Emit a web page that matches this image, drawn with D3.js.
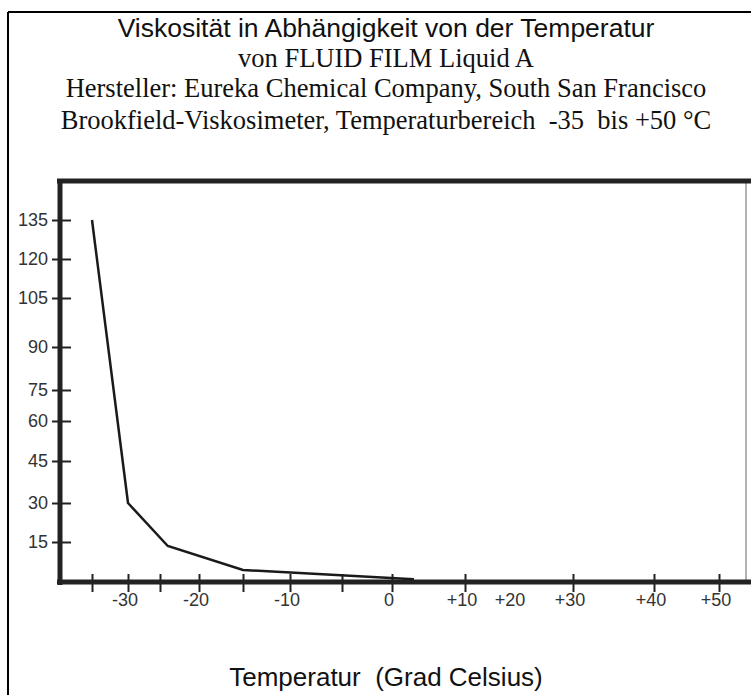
<!DOCTYPE html>
<html>
<head>
<meta charset="utf-8">
<script src="https://cdn.jsdelivr.net/npm/d3@7"></script>
<style>
body{margin:0;background:#fff}
svg{display:block}
</style>
</head>
<body>
<svg></svg>
<script>

// data
var temps = [-35, -30, -24, -15, 3]
var visc = [135, 30, 13.5, 4.5, 1]

var titleLines = [
    "Viskosität in Abhängigkeit von der Temperatur",
    "von FLUID FILM Liquid A",
    "Hersteller: Eureka Chemical Company, South San Francisco",
    "Brookfield-Viskosimeter, Temperaturbereich  -35  bis +50 °C"
]
var xTickValues = [-35, -30, -25, -20, -15, -10, -5, 0, 10, 30, 40, 50]
var xLabelValues = [-30, -20, -10, 0, 10, 20, 30, 40, 50]
var yTickValues = [15, 30, 45, 60, 75, 90, 105, 120, 135]
var xTitle = "Temperatur  (Grad Celsius)"

var screen = {width:751, height:695}

var svg = d3.select("svg")
    .attr("width", screen.width)
    .attr("height", screen.height)

// the original is hand drawn, so the axes are not evenly spaced
var xScale = d3.scaleLinear()
    .domain([-35, -30, -25, -20, -15, -10, -5, 0, 10, 20, 30, 40, 50])
    .range([92, 128, 160, 199, 243, 290, 342, 392, 465, 513, 573, 654, 719])

var yScale = d3.scaleLinear()
    .domain([0, 15, 30, 45, 60, 75, 90, 105, 120, 135])
    .range([582, 542, 503, 461, 421, 390, 347, 298, 259, 220])

// outer border (left + top)
svg.append("line")
    .attr("x1", 8).attr("y1", 12).attr("x2", 8).attr("y2", screen.height)
    .attr("stroke", "#000").attr("stroke-width", 2)
svg.append("line")
    .attr("x1", 8).attr("y1", 12).attr("x2", screen.width).attr("y2", 12)
    .attr("stroke", "#000").attr("stroke-width", 2)

// titles
var fonts = ["Liberation Sans, Arial, sans-serif", "Liberation Serif, Times New Roman, serif",
             "Liberation Serif, Times New Roman, serif", "Liberation Serif, Times New Roman, serif"]
var baselines = [37, 67, 97, 129]
svg.selectAll("text.title")
    .data(titleLines)
    .enter()
    .append("text")
    .attr("class", "title")
    .attr("x", 386)
    .attr("y", function(d, i){return baselines[i]})
    .attr("text-anchor", "middle")
    .style("font-family", function(d, i){return fonts[i]})
    .style("font-size", "26.5px")
    .style("white-space", "pre")
    .attr("fill", "#111")
    .text(function(d){return d})

// plot frame: thin right edge
svg.append("line")
    .attr("x1", 746).attr("y1", 181).attr("x2", 746).attr("y2", 582)
    .attr("stroke", "#999").attr("stroke-width", 1.5)

// top thick line
svg.append("line")
    .attr("x1", 57).attr("y1", 181).attr("x2", screen.width).attr("y2", 181)
    .attr("stroke", "#222").attr("stroke-width", 5)

// y axis
var yAxis = d3.axisLeft(yScale)
    .tickValues(yTickValues)
    .tickSize(0)
    .tickPadding(12)
var gy = svg.append("g")
    .attr("transform", "translate(60,0)")
    .call(yAxis)
gy.select(".domain").remove()
gy.selectAll(".tick").append("line")
    .attr("x1", -8).attr("x2", 11)
    .attr("stroke", "#222").attr("stroke-width", 2)
gy.selectAll("text")
    .attr("fill", "#333")
    .style("font-family", "Liberation Sans, Arial, sans-serif")
    .style("font-size", "18px")
svg.append("line")
    .attr("x1", 60).attr("y1", 179).attr("x2", 60).attr("y2", 585)
    .attr("stroke", "#222").attr("stroke-width", 5)

// x axis
var xAxis = d3.axisBottom(xScale)
    .tickValues(xTickValues)
    .tickSize(0)
    .tickFormat("")
var gx = svg.append("g")
    .attr("transform", "translate(0,582)")
    .call(xAxis)
gx.select(".domain").remove()
gx.selectAll(".tick").append("line")
    .attr("y1", -8).attr("y2", 10)
    .attr("stroke", "#222").attr("stroke-width", 2)
svg.append("line")
    .attr("x1", 57).attr("y1", 582).attr("x2", screen.width).attr("y2", 582)
    .attr("stroke", "#222").attr("stroke-width", 5)

svg.selectAll("text.xlab")
    .data(xLabelValues)
    .enter()
    .append("text")
    .attr("class", "xlab")
    .attr("x", function(d){return xScale(d) - 3})
    .attr("y", 606)
    .attr("text-anchor", "middle")
    .attr("fill", "#333")
    .style("font-family", "Liberation Sans, Arial, sans-serif")
    .style("font-size", "18px")
    .text(function(d){return d > 0 ? "+" + d : "" + d})

svg.append("text")
    .attr("x", 386)
    .attr("y", 686)
    .attr("text-anchor", "middle")
    .style("font-family", "Liberation Sans, Arial, sans-serif")
    .style("font-size", "26px")
    .style("white-space", "pre")
    .attr("fill", "#111")
    .text(xTitle)

// the curve
var points = temps.map(function(t, i){return {x:t, y:visc[i]}})
var line = d3.line()
    .x(function(p){return xScale(p.x)})
    .y(function(p){return yScale(p.y)})
svg.append("path")
    .datum(points)
    .attr("d", line)
    .attr("fill", "none")
    .attr("stroke", "#1a1a1a")
    .attr("stroke-width", 2.5)

</script>
</body>
</html>
